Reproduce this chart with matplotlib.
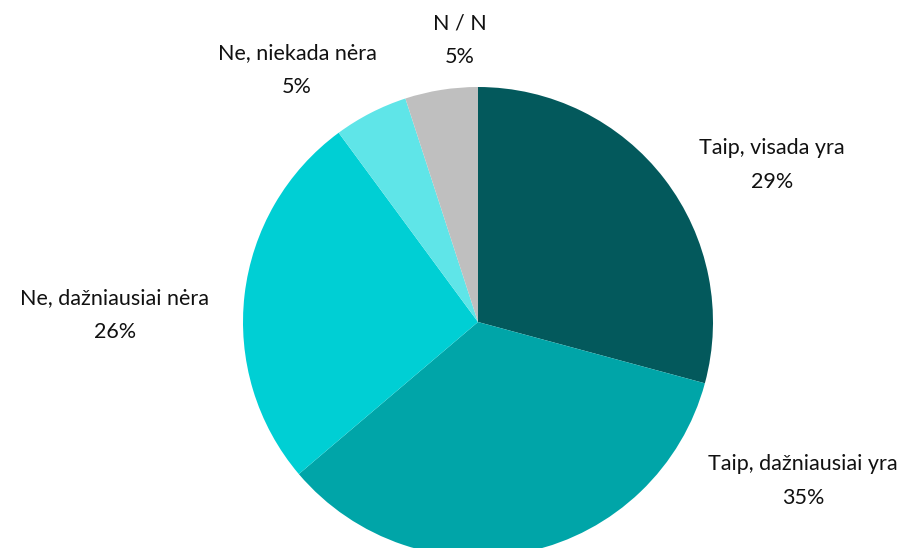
import matplotlib.pyplot as plt

# Atsakymu kategorijos ir procentai (skaitant nuo 12 val. pagal laikrodzio rodykle)
categories = ['Taip, visada yra', 'Taip, dažniausiai yra', 'Ne, dažniausiai nėra',
              'Ne, niekada nėra', 'N / N']
values = [29.2, 34.6, 26.1, 5.1, 5.0]

COLORS = ['#03595C', '#00A5A8', '#00CFD4', '#5FE5E8', '#BFBFBF']

# Piksel. padetis paveikslelyje (912x548): pyrago centras ir spindulys
CX, CY, R = 478, 322, 235
W, H = 912, 548
# Etikeciu centrai pikseliais
LABEL_POS = [(772, 165), (803, 481), (115, 315), (297, 70), (460, 40)]

plt.rcParams['font.family'] = ['Lato', 'DejaVu Sans']

fig = plt.figure(figsize=(W / 100, H / 100), dpi=100)
ax = fig.add_axes([0, 0, 1, 1])

ax.pie(values, colors=COLORS, startangle=90, counterclock=False,
       radius=1, center=(0, 0), wedgeprops=dict(linewidth=0))

ax.set_xlim(-CX / R, (W - CX) / R)
ax.set_ylim((CY - H) / R, CY / R)
ax.axis('off')

for name, val, (px, py) in zip(categories, values, LABEL_POS):
    ax.text((px - CX) / R, (CY - py) / R, f'{name}\n{round(val):.0f}%',
            ha='center', va='center', fontsize=15.5, color='#111111',
            linespacing=1.85)

fig.savefig('out.png', dpi=100)
